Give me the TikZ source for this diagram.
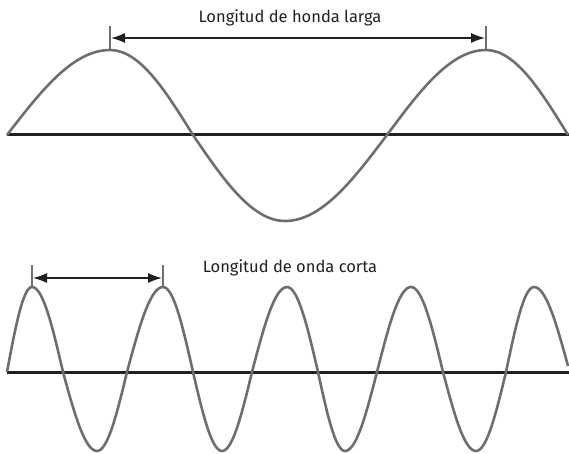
\documentclass[tikz,border=0pt]{standalone}
\usepackage{fontspec}
\setmainfont{Fira Sans}
\usetikzlibrary{arrows.meta}
\definecolor{wavegray}{HTML}{6D6E71}
\definecolor{inkdark}{HTML}{231F20}
\tikzset{
  wave/.style={draw=wavegray,line width=2.6pt,line join=round},
  axis/.style={draw=inkdark,line width=3pt},
  tick/.style={draw=wavegray,line width=2.4pt},
  span/.style={draw=inkdark,line width=1.4pt,<->},
  caption/.style={anchor=base,inner sep=0pt,font=\fontsize{16.5}{18}\selectfont,text=inkdark}
}

\begin{document}
\begin{tikzpicture}[x=1pt,y=-1pt,>={Latex[length=14pt,width=10pt]}]
  \useasboundingbox (0,0) rectangle (569,454);
  % long wavelength
  \draw[axis] (7,135) -- (569,135);
  \draw[wave] (7,135) sin (110,50) cos (193,135) sin (285,221) cos (387,135)
    sin (486,50) cos (568,135);
  \coordinate (lp1) at (110,50);
  \coordinate (lp2) at (486,50);
  \coordinate (lt1) at (110,26);
  \coordinate (lt2) at (486,26);
  \draw[tick] (lp1) -- (lt1);
  \draw[tick] (lp2) -- (lt2);
  \coordinate (la1) at (111,38);
  \coordinate (la2) at (485,38);
  \draw[span] (la1) -- (la2);
  \node[caption] (larga) at (290,23) {Longitud de honda larga};
  % short wavelength
  \draw[axis] (7,372) -- (569,372);
  \draw[wave] (7,372) sin (32,287) cos (63,372) sin (97,451) cos (127,372)
    sin (163,287) cos (193,372) sin (222,451) cos (252,372)
    sin (287,287) cos (318,372) sin (345,451) cos (377,372)
    sin (411,287) cos (443,372) sin (476,451) cos (506,372)
    sin (534,287) cos (568,366);
  \coordinate (sp1) at (32,287);
  \coordinate (sp2) at (163,287);
  \coordinate (st1) at (32,265);
  \coordinate (st2) at (163,265);
  \draw[tick] (sp1) -- (st1);
  \draw[tick] (sp2) -- (st2);
  \coordinate (sa1) at (33,278);
  \coordinate (sa2) at (162,278);
  \draw[span] (sa1) -- (sa2);
  \node[caption] (corta) at (290,272) {Longitud de onda corta};
\end{tikzpicture}
\end{document}
